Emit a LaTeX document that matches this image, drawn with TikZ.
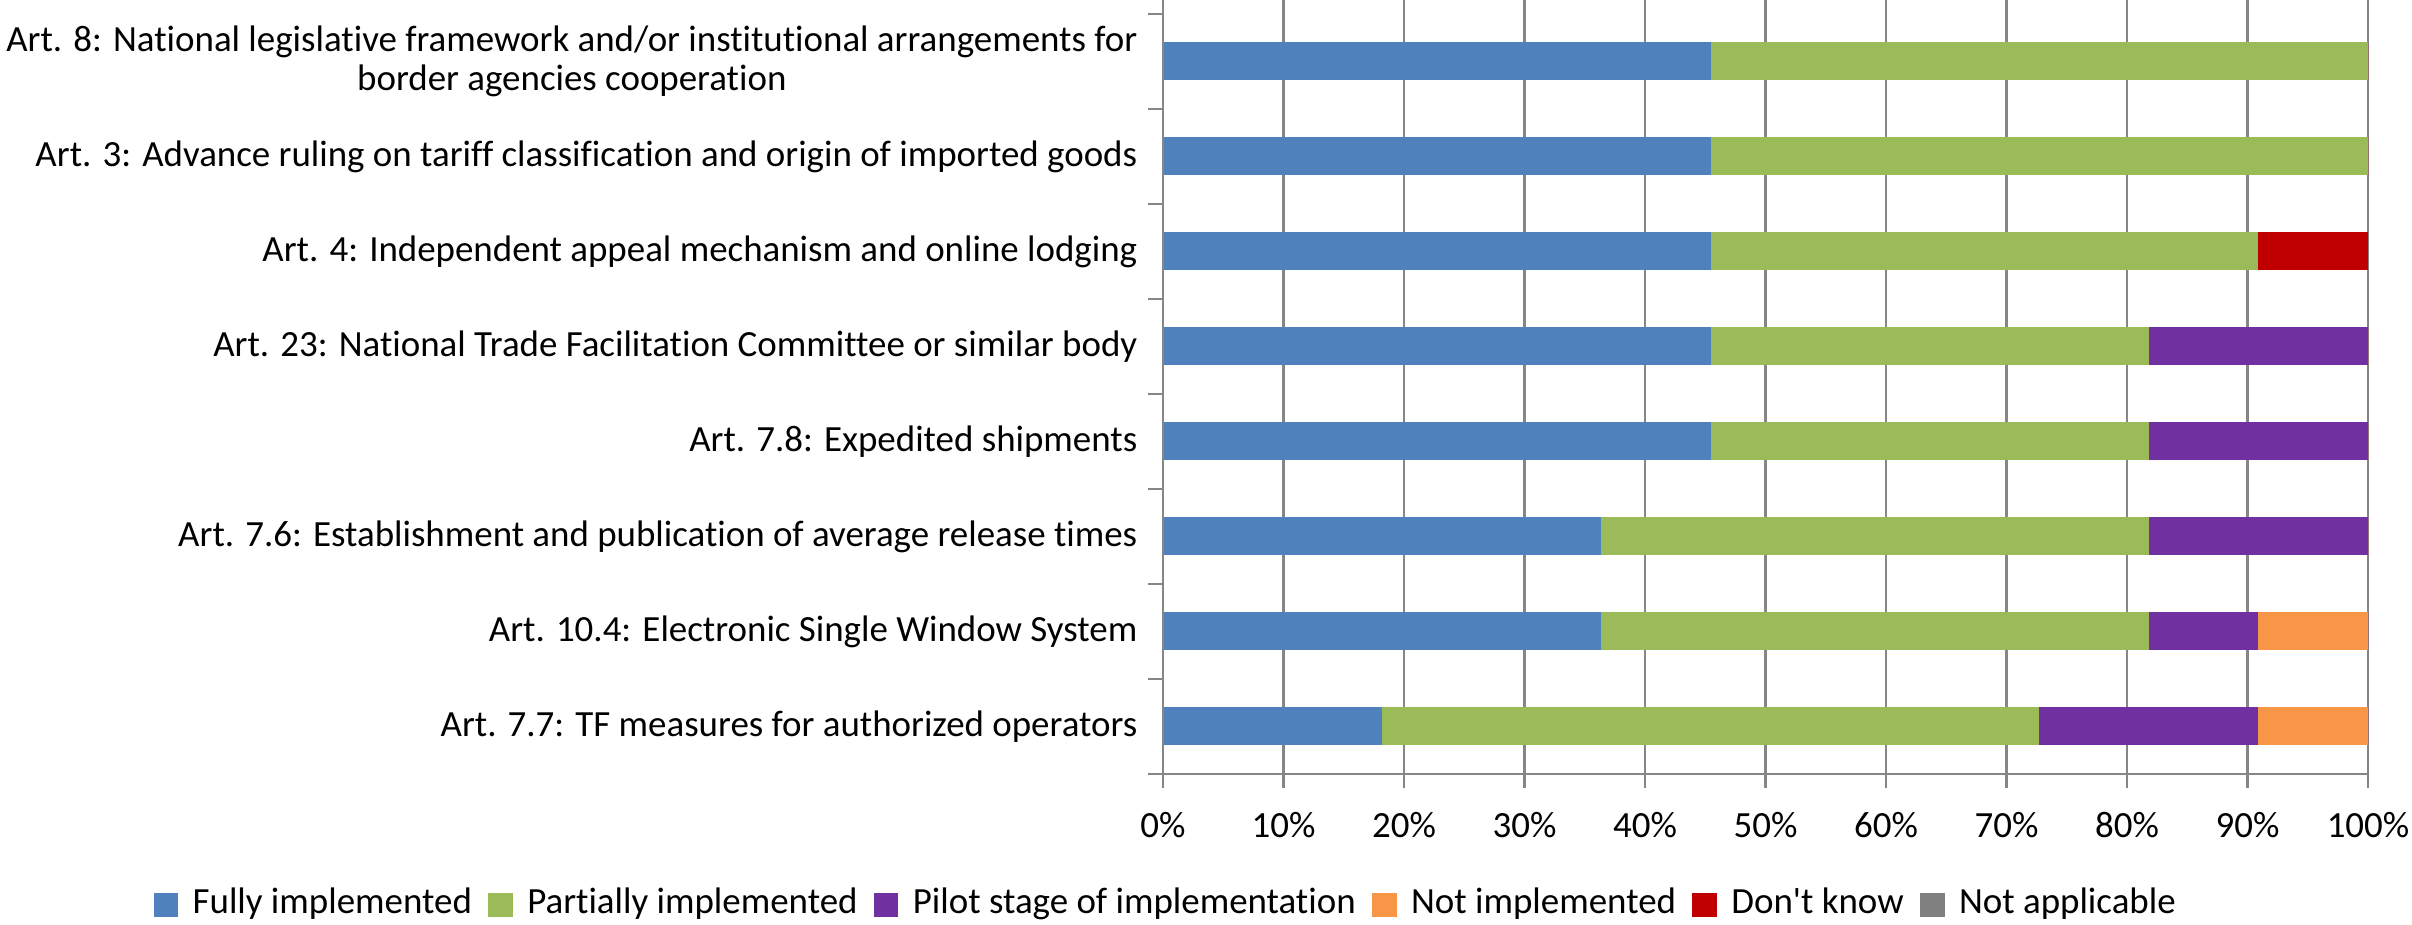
\documentclass[tikz,border=0pt]{standalone}
\usepackage{fontspec}
\setmainfont{Carlito}[Ligatures={NoCommon}]
\usepackage{tikz}
\usetikzlibrary{positioning}
\definecolor{fullyc}{HTML}{4F81BD}
\definecolor{partlyc}{HTML}{9BBB59}
\definecolor{pilotc}{HTML}{7030A0}
\definecolor{notimplc}{HTML}{F79646}
\definecolor{dontknowc}{HTML}{C00000}
\definecolor{notapplc}{HTML}{808080}
\definecolor{gridc}{HTML}{868686}
\tikzset{
    gridline/.style={draw=gridc, line width=0.75pt},
    catlabel/.style={anchor=east, inner sep=0pt, align=center,
        font=\fontsize{10.5}{11.3}\selectfont},
    pctlabel/.style={inner sep=0pt, font=\fontsize{10.5}{12}\selectfont},
    legkey/.style={minimum size=0.245cm, inner sep=0pt},
    legtext/.style={inner sep=0pt, text height=0.72em, text depth=0.22em,
        font=\fontsize{10.5}{12}\selectfont}
}

\begin{document}
\begin{tikzpicture}[x=0.01cm, y=0.01cm]
    \useasboundingbox (0,0) rectangle (2412,925);

		% grid
		\foreach \p in {1,...,10}
			\draw[gridline] (1163+\p*120.5,151) -- (1163+\p*120.5,925);

		% bars: row / cumulative counts (of 11)
		\foreach \row/\ba/\bb/\bc/\bd in {1/2/8/10/11, 2/4/9/10/11, 3/4/9/11/11,
				4/5/9/11/11, 5/5/9/11/11, 6/5/10/10/10, 7/5/11/11/11, 8/5/11/11/11}{
			\pgfmathsetmacro{\yc}{151+(\row-0.5)*95}
			\pgfmathsetmacro{\xa}{1163+\ba*1205/11}
			\pgfmathsetmacro{\xb}{1163+\bb*1205/11}
			\pgfmathsetmacro{\xc}{1163+\bc*1205/11}
			\pgfmathsetmacro{\xd}{1163+\bd*1205/11}
			\fill[fullyc] (1163,\yc-19) rectangle (\xa,\yc+19);
			\fill[partlyc] (\xa,\yc-19) rectangle (\xb,\yc+19);
			\fill[pilotc] (\xb,\yc-19) rectangle (\xc,\yc+19);
			\fill[notimplc] (\xc,\yc-19) rectangle (\xd,\yc+19);
			\fill[dontknowc] (\xd,\yc-19) rectangle (2368,\yc+19);
		}

		% axes
		\draw[gridline] (1163,151) -- (1163,925);
		\draw[gridline] (1148,151) -- (2368,151);
		\foreach \k in {1,...,8}
			\draw[gridline] (1148,151+\k*95) -- (1163,151+\k*95);
		\foreach \p in {0,...,10}
			\draw[gridline] (1163+\p*120.5,151) -- (1163+\p*120.5,137);

		% value labels
		\foreach \p in {0,...,10}
			\node[pctlabel] (pct\p) at (1163+\p*120.5,100) {\the\numexpr\p*10\relax\%};

		% category labels
		\node[catlabel] (lab8) at (1138,198.5+7*95) {Art. 8: National legislative framework and/or institutional arrangements for\\border agencies cooperation};
		\node[catlabel] (lab7) at (1138,198.5+6*95) {Art. 3: Advance ruling on tariff classification and origin of imported goods};
		\node[catlabel] (lab6) at (1138,198.5+5*95) {Art. 4: Independent appeal mechanism and online lodging};
		\node[catlabel] (lab5) at (1138,198.5+4*95) {Art. 23: National Trade Facilitation Committee or similar body};
		\node[catlabel] (lab4) at (1138,198.5+3*95) {Art. 7.8: Expedited shipments};
		\node[catlabel] (lab3) at (1138,198.5+2*95) {Art. 7.6: Establishment and publication of average release times};
		\node[catlabel] (lab2) at (1138,198.5+1*95) {Art. 10.4: Electronic Single Window System};
		\node[catlabel] (lab1) at (1138,198.5) {Art. 7.7: TF measures for authorized operators};

		% legend
		\node[legkey, fill=fullyc] (kfully) at (166,20) {};
		\node[legtext, right=0.13cm of kfully] (tfully) {Fully implemented};
		\node[legkey, fill=partlyc, right=0.15cm of tfully] (kpartly) {};
		\node[legtext, right=0.13cm of kpartly] (tpartly) {Partially implemented};
		\node[legkey, fill=pilotc, right=0.15cm of tpartly] (kpilot) {};
		\node[legtext, right=0.13cm of kpilot] (tpilot) {Pilot stage of implementation};
		\node[legkey, fill=notimplc, right=0.15cm of tpilot] (knotimpl) {};
		\node[legtext, right=0.13cm of knotimpl] (tnotimpl) {Not implemented};
		\node[legkey, fill=dontknowc, right=0.15cm of tnotimpl] (kdontknow) {};
		\node[legtext, right=0.13cm of kdontknow] (tdontknow) {Don\textquotesingle t know};
		\node[legkey, fill=notapplc, right=0.15cm of tdontknow] (knotappl) {};
		\node[legtext, right=0.13cm of knotappl] (tnotappl) {Not applicable};
    \end{tikzpicture}
\end{document}
